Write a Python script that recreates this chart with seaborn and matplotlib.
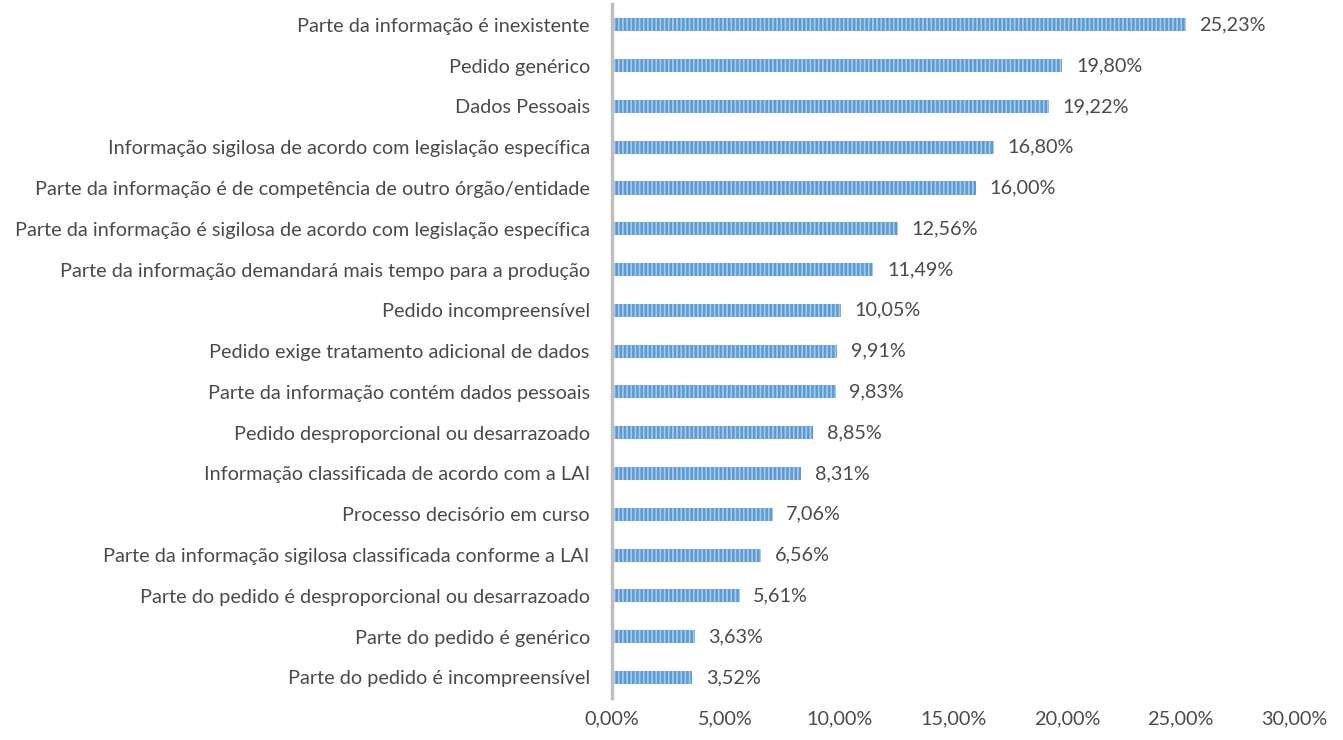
import matplotlib
matplotlib.use('Agg')
import matplotlib.pyplot as plt
import seaborn as sns
import pandas as pd

categorias = [
    'Parte da informação é inexistente',
    'Pedido genérico',
    'Dados Pessoais',
    'Informação sigilosa de acordo com legislação específica',
    'Parte da informação é de competência de outro órgão/entidade',
    'Parte da informação é sigilosa de acordo com legislação específica',
    'Parte da informação demandará mais tempo para a produção',
    'Pedido incompreensível',
    'Pedido exige tratamento adicional de dados',
    'Parte da informação contém dados pessoais',
    'Pedido desproporcional ou desarrazoado',
    'Informação classificada de acordo com a LAI',
    'Processo decisório em curso',
    'Parte da informação sigilosa classificada conforme a LAI',
    'Parte do pedido é desproporcional ou desarrazoado',
    'Parte do pedido é genérico',
    'Parte do pedido é incompreensível',
]
valores = [25.23, 19.80, 19.22, 16.80, 16.00, 12.56, 11.49, 10.05,
           9.91, 9.83, 8.85, 8.31, 7.06, 6.56, 5.61, 3.63, 3.52]
ticks_x = [0, 5, 10, 15, 20, 25, 30]

df = pd.DataFrame({'motivo': categorias, 'pct': valores})

sns.set_style('white')
plt.rcParams['font.family'] = ['Lato', 'DejaVu Sans']
plt.rcParams['hatch.color'] = '#A9CBEA'
plt.rcParams['hatch.linewidth'] = 1.2
cinza = '#4a4a4a'
fs = 14.3

fig = plt.figure(figsize=(13.43, 7.40), dpi=100)
ax = fig.add_axes([0.4557, 0.057, 0.508, 0.937])

sns.barplot(data=df, x='pct', y='motivo', color='#5B9BD5', saturation=1,
            width=0.32, ax=ax, orient='h')
for p in ax.patches:
    p.set_hatch('||||')
    p.set_edgecolor('#A9CBEA')
    p.set_linewidth(0)

for i, v in enumerate(valores):
    ax.text(v + 0.6, i, f'{v:.2f}%'.replace('.', ','), va='center', ha='left',
            fontsize=fs, color=cinza)

ax.set_xlim(0, 30)
ax.set_ylim(len(categorias) - 0.5, -0.5)
ax.set_xticks(ticks_x)
ax.set_xticklabels([f'{t:.2f}%'.replace('.', ',') for t in ticks_x], fontsize=fs, color=cinza)
ax.tick_params(axis='y', labelsize=fs, colors=cinza, length=0, pad=16)
ax.tick_params(axis='x', length=0, pad=9)
ax.set_xlabel('')
ax.set_ylabel('')
for s in ['top', 'right', 'bottom']:
    ax.spines[s].set_visible(False)
ax.spines['left'].set_color('#BFBFBF')
ax.spines['left'].set_linewidth(2.5)

fig.savefig('out.png', dpi=100)
